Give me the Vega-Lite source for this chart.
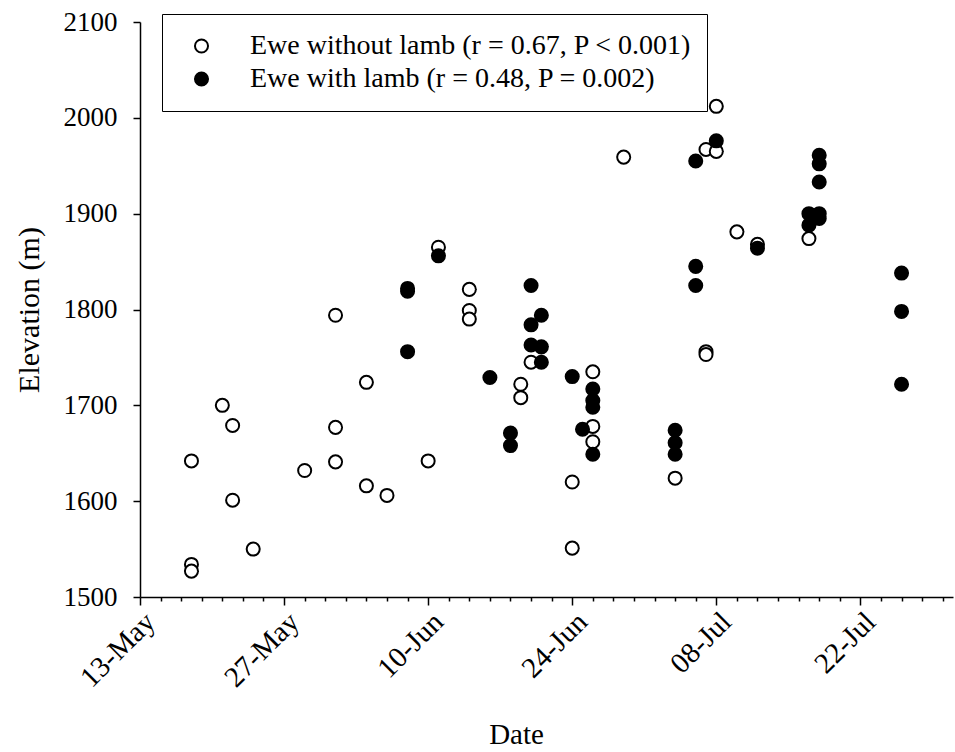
{
  "$schema": "https://vega.github.io/schema/vega-lite/v6.json",
  "width": 813,
  "height": 575,
  "autosize": "none",
  "padding": {"left": 140, "top": 22, "right": 2, "bottom": 155},
  "background": "white",
  "config": {
    "view": {"stroke": null},
    "font": "Liberation Serif",
    "axis": {"grid": false, "domainColor": "black", "tickColor": "black", "labelColor": "black", "titleColor": "black", "labelFont": "Liberation Serif", "titleFont": "Liberation Serif", "titleFontWeight": "normal", "domainWidth": 1.5, "tickWidth": 1.5}
  },
  "data": {
    "values": [
      {"date": "2010-05-18", "elevation": 1642, "group": "Ewe without lamb"},
      {"date": "2010-05-18", "elevation": 1534, "group": "Ewe without lamb"},
      {"date": "2010-05-18", "elevation": 1527, "group": "Ewe without lamb"},
      {"date": "2010-05-21", "elevation": 1700, "group": "Ewe without lamb"},
      {"date": "2010-05-22", "elevation": 1679, "group": "Ewe without lamb"},
      {"date": "2010-05-22", "elevation": 1601, "group": "Ewe without lamb"},
      {"date": "2010-05-24", "elevation": 1550, "group": "Ewe without lamb"},
      {"date": "2010-05-29", "elevation": 1632, "group": "Ewe without lamb"},
      {"date": "2010-06-01", "elevation": 1794, "group": "Ewe without lamb"},
      {"date": "2010-06-01", "elevation": 1677, "group": "Ewe without lamb"},
      {"date": "2010-06-01", "elevation": 1641, "group": "Ewe without lamb"},
      {"date": "2010-06-04", "elevation": 1724, "group": "Ewe without lamb"},
      {"date": "2010-06-04", "elevation": 1616, "group": "Ewe without lamb"},
      {"date": "2010-06-06", "elevation": 1606, "group": "Ewe without lamb"},
      {"date": "2010-06-10", "elevation": 1642, "group": "Ewe without lamb"},
      {"date": "2010-06-11", "elevation": 1865, "group": "Ewe without lamb"},
      {"date": "2010-06-14", "elevation": 1821, "group": "Ewe without lamb"},
      {"date": "2010-06-14", "elevation": 1799, "group": "Ewe without lamb"},
      {"date": "2010-06-14", "elevation": 1790, "group": "Ewe without lamb"},
      {"date": "2010-06-19", "elevation": 1722, "group": "Ewe without lamb"},
      {"date": "2010-06-19", "elevation": 1708, "group": "Ewe without lamb"},
      {"date": "2010-06-20", "elevation": 1745, "group": "Ewe without lamb"},
      {"date": "2010-06-24", "elevation": 1620, "group": "Ewe without lamb"},
      {"date": "2010-06-24", "elevation": 1551, "group": "Ewe without lamb"},
      {"date": "2010-06-26", "elevation": 1735, "group": "Ewe without lamb"},
      {"date": "2010-06-26", "elevation": 1678, "group": "Ewe without lamb"},
      {"date": "2010-06-26", "elevation": 1662, "group": "Ewe without lamb"},
      {"date": "2010-06-29", "elevation": 1959, "group": "Ewe without lamb"},
      {"date": "2010-07-04", "elevation": 1624, "group": "Ewe without lamb"},
      {"date": "2010-07-07", "elevation": 1756, "group": "Ewe without lamb"},
      {"date": "2010-07-07", "elevation": 1753, "group": "Ewe without lamb"},
      {"date": "2010-07-07", "elevation": 1967, "group": "Ewe without lamb"},
      {"date": "2010-07-08", "elevation": 2012, "group": "Ewe without lamb"},
      {"date": "2010-07-08", "elevation": 1965, "group": "Ewe without lamb"},
      {"date": "2010-07-10", "elevation": 1881, "group": "Ewe without lamb"},
      {"date": "2010-07-12", "elevation": 1868, "group": "Ewe without lamb"},
      {"date": "2010-07-17", "elevation": 1874, "group": "Ewe without lamb"},
      {"date": "2010-06-08", "elevation": 1822, "group": "Ewe with lamb"},
      {"date": "2010-06-08", "elevation": 1819, "group": "Ewe with lamb"},
      {"date": "2010-06-08", "elevation": 1756, "group": "Ewe with lamb"},
      {"date": "2010-06-11", "elevation": 1856, "group": "Ewe with lamb"},
      {"date": "2010-06-16", "elevation": 1729, "group": "Ewe with lamb"},
      {"date": "2010-06-18", "elevation": 1671, "group": "Ewe with lamb"},
      {"date": "2010-06-18", "elevation": 1658, "group": "Ewe with lamb"},
      {"date": "2010-06-20", "elevation": 1825, "group": "Ewe with lamb"},
      {"date": "2010-06-20", "elevation": 1784, "group": "Ewe with lamb"},
      {"date": "2010-06-20", "elevation": 1763, "group": "Ewe with lamb"},
      {"date": "2010-06-21", "elevation": 1794, "group": "Ewe with lamb"},
      {"date": "2010-06-21", "elevation": 1761, "group": "Ewe with lamb"},
      {"date": "2010-06-21", "elevation": 1745, "group": "Ewe with lamb"},
      {"date": "2010-06-24", "elevation": 1730, "group": "Ewe with lamb"},
      {"date": "2010-06-25", "elevation": 1675, "group": "Ewe with lamb"},
      {"date": "2010-06-26", "elevation": 1717, "group": "Ewe with lamb"},
      {"date": "2010-06-26", "elevation": 1705, "group": "Ewe with lamb"},
      {"date": "2010-06-26", "elevation": 1698, "group": "Ewe with lamb"},
      {"date": "2010-06-26", "elevation": 1649, "group": "Ewe with lamb"},
      {"date": "2010-07-04", "elevation": 1674, "group": "Ewe with lamb"},
      {"date": "2010-07-04", "elevation": 1661, "group": "Ewe with lamb"},
      {"date": "2010-07-04", "elevation": 1649, "group": "Ewe with lamb"},
      {"date": "2010-07-06", "elevation": 1955, "group": "Ewe with lamb"},
      {"date": "2010-07-06", "elevation": 1845, "group": "Ewe with lamb"},
      {"date": "2010-07-06", "elevation": 1825, "group": "Ewe with lamb"},
      {"date": "2010-07-08", "elevation": 1976, "group": "Ewe with lamb"},
      {"date": "2010-07-12", "elevation": 1864, "group": "Ewe with lamb"},
      {"date": "2010-07-17", "elevation": 1900, "group": "Ewe with lamb"},
      {"date": "2010-07-17", "elevation": 1888, "group": "Ewe with lamb"},
      {"date": "2010-07-18", "elevation": 1961, "group": "Ewe with lamb"},
      {"date": "2010-07-18", "elevation": 1952, "group": "Ewe with lamb"},
      {"date": "2010-07-18", "elevation": 1933, "group": "Ewe with lamb"},
      {"date": "2010-07-18", "elevation": 1900, "group": "Ewe with lamb"},
      {"date": "2010-07-18", "elevation": 1895, "group": "Ewe with lamb"},
      {"date": "2010-07-26", "elevation": 1838, "group": "Ewe with lamb"},
      {"date": "2010-07-26", "elevation": 1798, "group": "Ewe with lamb"},
      {"date": "2010-07-26", "elevation": 1722, "group": "Ewe with lamb"}
    ]
  },
  "mark": {"type": "point", "shape": "circle", "filled": true, "size": 170, "stroke": "black", "strokeWidth": 2, "opacity": 1},
  "encoding": {
    "x": {
      "field": "date",
      "type": "temporal",
      "scale": {"type": "utc", "domain": [1273708800000, 1280534400000]},
      "axis": {
        "title": "Date",
        "titleFontSize": 29,
        "titlePadding": 28,
        "titleX": 376,
        "labelFontSize": 29,
        "labelAngle": -45,
        "labelAlign": "right",
        "labelBaseline": "top",
        "labelPadding": 2,
        "labelOverlap": false,
        "labelFlush": false,
        "labelBound": false,
        "tickSize": {"condition": {"test": "(datum.value - 1273708800000) % 1209600000 === 0", "value": 8}, "value": 4},
        "labelExpr": "(datum.value - 1273708800000) % 1209600000 === 0 ? utcFormat(datum.value, '%d-%b') : ''",
        "values": [1273708800000, 1273881600000, 1274054400000, 1274227200000, 1274400000000, 1274572800000, 1274745600000, 1274918400000, 1275091200000, 1275264000000, 1275436800000, 1275609600000, 1275782400000, 1275955200000, 1276128000000, 1276300800000, 1276473600000, 1276646400000, 1276819200000, 1276992000000, 1277164800000, 1277337600000, 1277510400000, 1277683200000, 1277856000000, 1278028800000, 1278201600000, 1278374400000, 1278547200000, 1278720000000, 1278892800000, 1279065600000, 1279238400000, 1279411200000, 1279584000000, 1279756800000, 1279929600000, 1280102400000, 1280275200000, 1280448000000]
      }
    },
    "y": {
      "field": "elevation",
      "type": "quantitative",
      "scale": {"domain": [1500, 2100], "nice": false, "zero": false},
      "axis": {
        "title": "Elevation (m)",
        "titleFontSize": 30,
        "titlePadding": 19,
        "labelFontSize": 27,
        "format": "d",
        "tickSize": 7,
        "labelPadding": 16,
        "values": [1500, 1600, 1700, 1800, 1900, 2000, 2100]
      }
    },
    "fill": {
      "field": "group",
      "type": "nominal",
      "scale": {"domain": ["Ewe without lamb", "Ewe with lamb"], "range": ["white", "black"]},
      "legend": {
        "title": null,
        "orient": "none",
        "legendX": 22,
        "legendY": -8,
        "padding": 15.5,
        "strokeColor": "black",
        "fillColor": "white",
        "labelFont": "Liberation Serif",
        "labelFontSize": 28,
        "labelColor": "black",
        "labelLimit": 700,
        "labelExpr": "datum.label === 'Ewe without lamb' ? 'Ewe without lamb (r = 0.67, P < 0.001)' : 'Ewe with lamb (r = 0.48, P = 0.002)'",
        "symbolType": "circle",
        "symbolSize": 170,
        "symbolStrokeColor": "black",
        "symbolStrokeWidth": 2,
        "symbolOffset": 10,
        "labelOffset": 34.5,
        "clipHeight": 33,
        "rowPadding": 0
      }
    }
  }
}
